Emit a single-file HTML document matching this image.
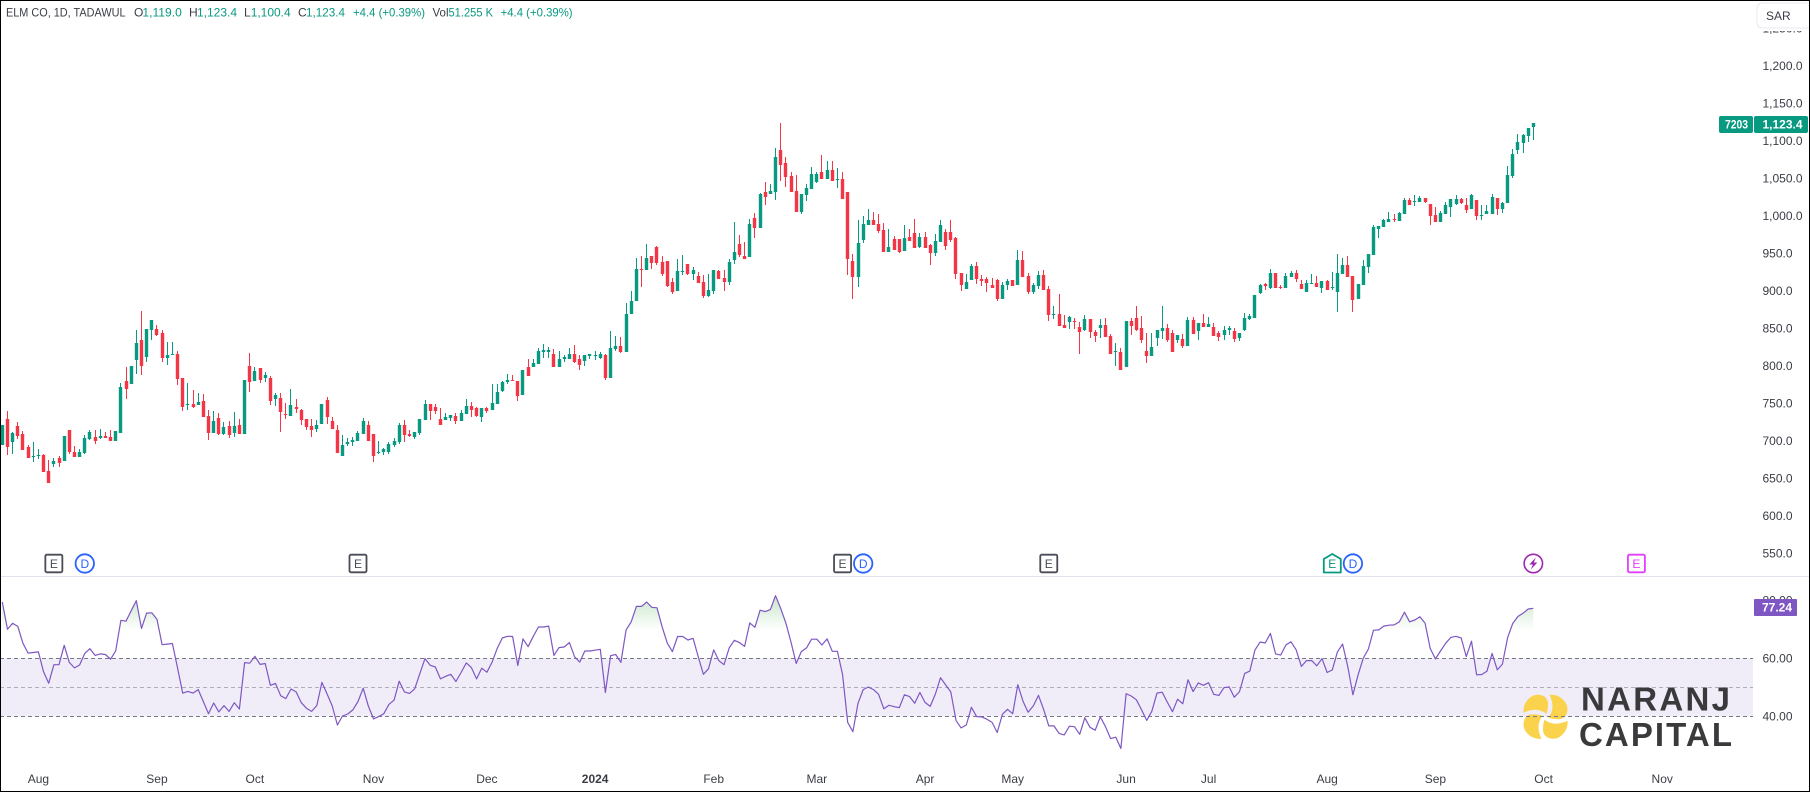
<!DOCTYPE html>
<html lang="en">
<head>
<meta charset="utf-8">
<title>ELM CO 1D TADAWUL chart</title>
<style>
html,body{margin:0;padding:0;background:#fff;width:1810px;height:792px;overflow:hidden}
svg{display:block;font-family:"Liberation Sans",sans-serif}
text{font-family:"Liberation Sans",sans-serif}
</style>
</head>
<body>
<svg id="chart" xmlns="http://www.w3.org/2000/svg" width="1810" height="792" viewBox="0 0 1810 792">
  <defs>
    <linearGradient id="obGrad" gradientUnits="userSpaceOnUse" x1="0" y1="597" x2="0" y2="630">
      <stop offset="0" stop-color="#4caf50" stop-opacity="0.3"/>
      <stop offset="1" stop-color="#4caf50" stop-opacity="0"/>
    </linearGradient>
    <linearGradient id="osGrad" gradientUnits="userSpaceOnUse" x1="0" y1="745" x2="0" y2="775">
      <stop offset="0" stop-color="#f23645" stop-opacity="0"/>
      <stop offset="1" stop-color="#f23645" stop-opacity="0.3"/>
    </linearGradient>
    <clipPath id="obClip"><rect x="0" y="560" width="1753" height="70"/></clipPath>
    <clipPath id="osClip"><rect x="0" y="745" width="1753" height="40"/></clipPath>
  </defs>
  <rect x="0" y="0" width="1810" height="792" fill="#ffffff"/>

  <g id="candles"></g>
  <line x1="0" y1="576.5" x2="1810" y2="576.5" stroke="#e0e3eb" stroke-width="1"/>

  <rect id="rsiBand" x="0" width="1753" fill="#f0edf9"/>

  <g>
    <g transform="translate(1545.5,716.8)" fill="#fbd24c">
      <path d="M-22,-4 C-23,-14 -15,-22 -8,-22 C-1,-22 2.5,-18 2.5,-13 C2.5,-9 2,-6 1,-3 C-3,-6 -7,-7 -11,-7 C-15,-6.8 -19,-5.5 -22,-4Z"/>
      <path transform="rotate(90)" d="M-22,-4 C-23,-14 -15,-22 -8,-22 C-1,-22 2.5,-18 2.5,-13 C2.5,-9 2,-6 1,-3 C-3,-6 -7,-7 -11,-7 C-15,-6.8 -19,-5.5 -22,-4Z"/>
      <path transform="rotate(180)" d="M-22,-4 C-23,-14 -15,-22 -8,-22 C-1,-22 2.5,-18 2.5,-13 C2.5,-9 2,-6 1,-3 C-3,-6 -7,-7 -11,-7 C-15,-6.8 -19,-5.5 -22,-4Z"/>
      <path transform="rotate(270)" d="M-22,-4 C-23,-14 -15,-22 -8,-22 C-1,-22 2.5,-18 2.5,-13 C2.5,-9 2,-6 1,-3 C-3,-6 -7,-7 -11,-7 C-15,-6.8 -19,-5.5 -22,-4Z"/>
    </g>
    <text x="1581" y="710.7" font-size="33" font-weight="700" fill="#3a3a3c" textLength="149" lengthAdjust="spacing">NARANJ</text>
    <text x="1579" y="746" font-size="33" font-weight="700" fill="#3a3a3c" textLength="153" lengthAdjust="spacing">CAPITAL</text>
  </g>

  <g id="rsiLevels"></g>
  <path id="rsiObFill" fill="url(#obGrad)" clip-path="url(#obClip)"/>
  <path id="rsiOsFill" fill="url(#osGrad)" clip-path="url(#osClip)"/>
  <path id="rsiLine" fill="none" stroke="#7e57c2" stroke-width="1.2" stroke-linejoin="round"/>

  <g id="events"></g>
  <g id="priceAxis"></g>
  <g id="rsiAxis"></g>
  <g id="timeAxis"></g>

  <g font-size="12">
    <text x="6" y="16.5" fill="#3a3d45" textLength="119.5" lengthAdjust="spacingAndGlyphs">ELM CO, 1D, TADAWUL</text>
    <text x="134" y="16.5" fill="#3a3d45">O</text>
    <text x="142.4" y="16.5" fill="#089981" textLength="39.4" lengthAdjust="spacingAndGlyphs">1,119.0</text>
    <text x="189" y="16.5" fill="#3a3d45">H</text>
    <text x="197" y="16.5" fill="#089981" textLength="40" lengthAdjust="spacingAndGlyphs">1,123.4</text>
    <text x="244" y="16.5" fill="#3a3d45">L</text>
    <text x="250.7" y="16.5" fill="#089981" textLength="40" lengthAdjust="spacingAndGlyphs">1,100.4</text>
    <text x="298" y="16.5" fill="#3a3d45">C</text>
    <text x="306" y="16.5" fill="#089981" textLength="39" lengthAdjust="spacingAndGlyphs">1,123.4</text>
    <text x="353" y="16.5" fill="#089981" textLength="72" lengthAdjust="spacingAndGlyphs">+4.4 (+0.39%)</text>
    <text x="432.5" y="16.5" fill="#3a3d45" textLength="16" lengthAdjust="spacingAndGlyphs">Vol</text>
    <text x="448.5" y="16.5" fill="#089981" textLength="44.5" lengthAdjust="spacingAndGlyphs">51.255 K</text>
    <text x="500.6" y="16.5" fill="#089981" textLength="72" lengthAdjust="spacingAndGlyphs">+4.4 (+0.39%)</text>
  </g>

  <g>
    <rect x="1755" y="0" width="55" height="31" fill="#ffffff"/>
    <rect x="1757" y="3" width="60" height="25" rx="5" fill="#ffffff" stroke="#e6e8ef" stroke-width="1"/>
    <text x="1766" y="20" font-size="12" fill="#3a3d45">SAR</text>
  </g>

  <g>
    <rect x="1719" y="116" width="34" height="17" rx="2" fill="#089981"/>
    <rect x="1754" y="116" width="54" height="17" rx="2" fill="#089981"/>
    <text x="1725" y="128.5" font-size="12" font-weight="700" fill="#ffffff" textLength="23" lengthAdjust="spacingAndGlyphs">7203</text>
    <text x="1762.5" y="128.5" font-size="12" font-weight="700" fill="#ffffff" textLength="40" lengthAdjust="spacingAndGlyphs">1,123.4</text>
  </g>
  <g>
    <rect x="1754" y="599" width="43" height="17" rx="1" fill="#7e57c2"/>
    <text x="1762" y="611.5" font-size="12" font-weight="700" fill="#ffffff">77.24</text>
  </g>

  <rect x="0.5" y="0.5" width="1809" height="791" fill="none" stroke="#000000" stroke-width="1"/>
</svg>

<script>
const opens = [694,729,698,720,709,692,678,680,681,660,669,677,673,714,685,678,684,702,705,704,706,705,700,710,780,776,808,834,812,848,849,844,810,814,816,784,748,749,748,753,733,710,730,709,720,710,721,709,800,780,797,784,784,756,757,736,733,745,741,729,720,716,722,754,726,714,680,696,698,700,709,721,709,684,685,685,694,698,721,709,705,710,728,749,745,729,728,730,733,726,736,746,744,732,744,741,749,766,778,781,780,761,798,798,802,818,818,816,798,809,809,816,809,806,813,813,810,
814,784,822,826,818,869,886,929,928,946,958,938,940,912,900,925,936,922,920,912,893,900,926,917,912,941,962,946,945,997,984,1032,1029,1032,1088,1070,1053,1033,1005,1028,1036,1045,1058,1049,1061,1048,1049,1032,940,918,968,988,994,989,981,952,969,969,953,972,977,958,972,961,950,965,978,978,970,924,902,914,933,916,916,908,914,889,908,914,908,941,920,898,906,921,902,868,869,854,858,860,852,848,862,845,850,854,840,818,818,798,860,864,850,820,813,837,846,850,844,834,836,826,861,846,
857,852,852,844,841,848,846,837,848,862,864,897,909,904,924,905,904,918,924,909,898,909,910,904,913,904,898,922,934,920,889,908,932,948,982,985,992,996,993,1002,1021,1018,1018,1024,1016,1001,992,1002,1012,1016,1022,1014,1009,1021,1000,1002,1002,1024,1009,1017,1053,1088,1097,1106,1118];
const highs = [721,740,712,724.5,713,694,698,689,682,674,677,680,706,714,693,689,708,714,714,716,712,714,713,777,798,800,848,873,849,861,854,848,832,832,820,784,777,768,764,762,741,740,737,725,726,738,729,781,817,798,797,792,786,764,764,750,769,756,742,729,729,728,749,758,732,721,708,704,705,713,730,726,709,700,690,698,704,724,728,714,712,729,754,749,749,744,737,734,737,741,756,752,745,744,745,776,776,780,789,788,780,794,809,809,824,829,825,822,820,814,824,828,814,814,816,820,818,
816,846,840,838,884,900,944,946,962,946,960,946,940,917,942,948,936,932,925,921,922,928,928,928,942,992,974,965,996,1004,1030,1045,1042,1090,1124,1078,1058,1054,1029,1042,1065,1058,1081,1073,1073,1064,1058,1032,949,994,1000,1009,1005,1002,990,982,973,969,988,982,996,977,978,962,976,994,982,994,972,924,922,936,938,921,918,917,916,912,916,914,954,953,924,910,926,928,906,880,896,868,866,864,858,868,862,848,862,864,842,830,824,860,864,880,866,844,844,848,880,856,848,841,842,865,865,857,
869,865,857,846,853,853,850,844,870,869,894,909,910,929,924,908,924,926,928,914,914,922,920,913,914,925,949,944,946,920,909,941,949,988,986,996,1005,1002,1005,1024,1024,1028,1026,1024,1016,1012,1006,1018,1022,1028,1024,1024,1029,1021,1014,1014,1029,1024,1018,1066,1089,1109,1109,1117,1123.4];
const lows = [694,681,682,702,688,677,672,676,658,644,665,665,673,682,678,678,682,701,696,702,704,700,700,710,756,776,789,788,805,834,840,805,801,814,774,740,741,744,748,732,701,710,708,708,704,705,709,709,765,780,777,778,748,746,712,729,733,737,721,714,705,712,722,722,716,684,680,693,693,700,709,700,672,682,681,682,692,696,698,705,702,708,728,728,736,721,728,726,722,726,736,732,732,725,737,741,749,765,776,780,753,761,786,798,802,810,810,798,798,805,809,804,794,800,809,808,809,
781,784,820,817,818,869,886,905,928,929,934,920,905,896,900,921,921,914,910,890,892,896,916,900,908,936,945,942,945,970,984,1014,1029,1021,1046,1038,1032,1005,1002,1020,1036,1044,1049,1049,1046,1037,1022,921,889,905,964,988,988,977,952,952,954,950,953,966,957,957,957,934,946,965,954,965,916,900,902,914,909,906,898,904,886,889,901,906,908,918,896,896,902,901,860,862,853,850,849,849,816,846,837,832,837,838,816,800,794,798,841,846,830,804,813,826,836,832,818,830,824,826,842,834,
852,852,840,833,834,841,832,833,846,861,864,896,901,902,904,902,904,918,912,902,898,909,905,897,901,901,872,922,918,872,889,908,924,948,970,985,992,992,993,1002,1014,1013,1018,1017,988,992,992,1002,998,1014,1016,1004,1009,994,994,1002,1002,1001,1004,1017,1050,1082,1084,1098,1100.4];
const closes = [721,692,710,706,688,677,680,681,658,644,673,670,706,685,678,685,704,712,700,706,704,700,713,772,769,800,830,800,849,861,841,810,814,816,782,745,749,745,752,732,710,726,709,718,708,720,709,781,778,793,781,788,753,761,738,734,748,742,728,718,714,721,749,732,716,684,694,698,701,710,726,700,680,685,689,696,700,721,708,706,712,729,749,740,740,721,732,734,726,737,746,741,733,744,740,750,765,778,781,780,760,794,786,804,820,821,821,798,809,812,816,805,801,814,816,814,816,
784,824,826,818,869,886,929,928,944,937,937,922,906,898,926,926,922,928,910,893,901,928,916,912,938,952,948,942,989,984,1029,1025,1033,1078,1068,1052,1032,1005,1029,1037,1056,1056,1049,1061,1046,1049,1022,942,918,964,989,994,988,980,952,958,954,952,970,966,957,972,957,950,966,988,960,968,922,908,912,933,916,913,910,904,889,908,913,906,941,918,898,908,921,901,868,869,853,850,865,858,845,862,845,840,854,838,816,820,794,860,853,848,834,813,825,848,850,834,818,841,826,861,842,857,
852,856,840,838,848,850,836,844,864,866,894,908,906,924,904,904,920,924,916,902,910,910,905,913,901,905,924,934,918,888,909,933,949,985,986,994,996,994,1004,1021,1014,1020,1024,1018,1000,992,1004,1014,1022,1022,1017,1008,1028,1000,1001,1006,1025,1009,1017,1054,1082,1098,1108,1117,1123.4];
const rsiValues = [79.4,70.0,72.1,71.0,65.2,61.8,62.0,62.2,55.4,51.4,57.8,57.8,64.5,58.6,56.7,57.7,61.7,63.3,61.0,61.5,61.3,59.7,62.6,73.1,72.8,76.4,79.9,70.3,75.6,75.7,73.4,64.7,64.9,65.1,56.6,48.0,48.6,48.0,49.2,45.1,40.9,44.6,41.5,43.7,41.7,44.7,42.5,58.5,58.3,60.7,57.9,58.2,50.7,51.3,47.1,46.1,49.4,48.4,44.7,42.8,41.7,43.7,51.7,47.7,43.6,37.0,40.1,40.8,42.2,45.1,49.7,43.6,39.1,39.9,40.9,44.1,45.6,52.1,48.4,47.9,49.5,54.8,59.9,57.6,57.0,52.9,53.8,54.5,52.0,55.1,58.4,56.8,52.9,56.6,55.2,58.6,63.4,67.0,67.6,67.5,57.5,66.7,64.0,67.6,70.8,70.8,71.1,61.0,63.7,63.9,65.4,60.6,58.7,62.5,62.5,62.8,63.1,
48.2,60.9,61.3,58.6,69.8,72.6,77.9,77.9,79.4,77.6,77.4,70.9,65.2,62.3,67.5,67.5,66.3,66.9,60.6,54.5,56.4,62.9,59.2,57.8,63.6,66.2,65.4,64.1,72.2,70.7,76.6,76.1,76.8,81.6,77.2,72.1,65.6,58.2,62.3,63.6,66.6,66.6,64.6,66.7,62.4,62.4,54.3,37.9,34.7,44.5,49.2,50.1,49.2,47.6,42.6,43.8,43.3,43.0,47.4,46.8,44.5,48.2,44.8,43.4,47.7,53.3,50.8,48.4,38.6,36.0,37.0,43.1,39.9,39.8,39.0,37.9,34.4,40.7,42.4,40.9,50.9,45.2,41.4,43.6,47.2,42.4,36.7,36.7,34.1,33.6,36.6,36.4,33.8,39.5,36.2,35.2,39.8,36.4,32.3,32.8,28.9,47.8,47.0,45.7,42.2,38.6,41.8,48.0,48.3,44.9,41.6,45.9,44.3,52.6,48.5,51.5,
50.7,51.6,47.6,47.2,49.9,50.1,46.6,48.5,54.8,55.6,62.9,65.6,65.3,68.6,61.5,61.1,64.6,65.7,62.9,57.2,59.2,59.2,57.4,59.9,55.1,56.0,62.2,64.9,57.1,47.4,54.3,60.0,63.2,69.7,69.8,71.1,71.4,71.5,72.6,75.9,72.6,73.2,74.3,72.1,63.4,59.8,62.5,65.2,67.2,67.6,67.0,60.6,65.9,54.3,54.4,55.5,61.7,56.0,58.0,67.1,72.0,74.4,75.5,77.0,77.24];

const priceTicks = [550,600,650,700,750,800,850,900,950,1000,1050,1100,1150,1200,1250];
const rsiTicks = [40,60,80];
const rsiLevels = [60,50,40];
const monthLabels = ["Aug","Sep","Oct","Nov","Dec","2024","Feb","Mar","Apr","May","Jun","Jul","Aug","Sep","Oct","Nov"];
const monthIndexes = [7,30,49,72,94,115,138,158,179,196,218,234,257,278,299,322];
const eventIndexes = [10,16,69,163,167,203,258,262,297,317];
const eventKinds = ["E","D","E","E","D","E","H","D","B","M"];

const SVG_NS = "http://www.w3.org/2000/svg";
function xAt(i){ return 2.3 + 5.155 * i; }
function yPrice(p){ return 140.7 + (1100 - p) * 0.75; }
function yRsi(r){ return 658.3 + (60 - r) * 2.9; }
function fmtPrice(p){ return p.toFixed(1).replace(/\B(?=(\d{3})+(?!\d))/, ","); }
function make(tag, attrs){
  const el = document.createElementNS(SVG_NS, tag);
  for (const k in attrs) el.setAttribute(k, attrs[k]);
  return el;
}

// candles
const candleLayer = document.getElementById("candles");
for (let i = 0; i < closes.length; i++) {
  const up = closes[i] >= opens[i];
  const color = up ? "#089981" : "#f23645";
  const cx = Math.floor(xAt(i));
  const g = make("g", {});
  
  
  const yH = Math.round(yPrice(highs[i]));
  const yL = Math.round(yPrice(lows[i]));
  const yT = Math.round(yPrice(Math.max(opens[i], closes[i])));
  const yB = Math.round(yPrice(Math.min(opens[i], closes[i])));
  const wick = make("rect", {x: cx, y: yH, width: 1, height: Math.max(1, yL - yH), fill: color});
  
  
  const body = make("rect", {x: cx - 1.2, y: yT, width: 3.4, height: Math.max(1, yB - yT), fill: color});
  
  
  g.appendChild(wick);
  g.appendChild(body);
  candleLayer.appendChild(g);
}

// rsi band & levels
const band = document.getElementById("rsiBand");
band.setAttribute("y", yRsi(rsiLevels[0]));
band.setAttribute("height", yRsi(rsiLevels[2]) - yRsi(rsiLevels[0]));
const levelLayer = document.getElementById("rsiLevels");
rsiLevels.forEach(function(level){
  const ly = Math.round(yRsi(level)) + 0.5;
  const line = make("line", {x1: 0, x2: 1753, y1: ly, y2: ly, stroke: level === 50 ? "rgba(120,123,134,0.55)" : "#787b86", "stroke-width": 1, "stroke-dasharray": "4 3"});
  
  
  levelLayer.appendChild(line);
});

// rsi line
const rsiPts = rsiValues.map(function(v, i){ return xAt(i).toFixed(1) + "," + yRsi(v).toFixed(1); });
document.getElementById("rsiLine").setAttribute("d", "M" + rsiPts.join("L"));
const lastX = xAt(rsiValues.length - 1).toFixed(1);
const firstX = xAt(0).toFixed(1);
const yOb = yRsi(70).toFixed(1);
const yOs = yRsi(30).toFixed(1);
document.getElementById("rsiObFill").setAttribute("d", "M" + firstX + "," + yOb + "L" + rsiPts.join("L") + "L" + lastX + "," + yOb + "Z");
document.getElementById("rsiOsFill").setAttribute("d", "M" + firstX + "," + yOs + "L" + rsiPts.join("L") + "L" + lastX + "," + yOs + "Z");

// price axis
const priceAxis = document.getElementById("priceAxis");
priceTicks.forEach(function(p){
  const t = make("text", {x: 1762.5, y: yPrice(p) + 4.2, "font-size": 12, fill: "#3a3d45"});
  
  
  t.textContent = fmtPrice(p);
  priceAxis.appendChild(t);
});

// rsi axis
const rsiAxis = document.getElementById("rsiAxis");
rsiTicks.forEach(function(r){
  const t = make("text", {x: 1762.5, y: yRsi(r) + 4.2, "font-size": 12, fill: "#3a3d45"});
  
  
  t.textContent = r.toFixed(2);
  rsiAxis.appendChild(t);
});

// time axis
const timeAxis = document.getElementById("timeAxis");
monthLabels.forEach(function(label, k){
  const isYear = /^\d+$/.test(label);
  const t = make("text", {x: xAt(monthIndexes[k]), y: 783.2, "font-size": 12, "text-anchor": "middle", fill: "#3a3d45", "font-weight": isYear ? 700 : 400});
  
  
  t.textContent = label;
  timeAxis.appendChild(t);
});

// event markers
const eventLayer = document.getElementById("events");
const cy = 563.5;
eventKinds.forEach(function(kind, k){
  const cx = xAt(eventIndexes[k]);
  const g = make("g", {});
  
  
  let color = "#4a4d57";
  let letter = "E";
  if (kind === "D") {
    color = "#2962ff";
    letter = "D";
    g.appendChild(make("circle", {cx: cx, cy: cy, r: 9.2, fill: "#fff", stroke: color, "stroke-width": 1.8}));
  } else if (kind === "B") {
    color = "#9c27b0";
    letter = "";
    g.appendChild(make("circle", {cx: cx, cy: cy, r: 9.2, fill: "#fff", stroke: color, "stroke-width": 1.6}));
    g.appendChild(make("path", {d: "M" + (cx + 2.5) + "," + (cy - 6) + "L" + (cx - 4) + "," + (cy + 1) + "L" + (cx - 0.5) + "," + (cy + 1) + "L" + (cx - 2.5) + "," + (cy + 6) + "L" + (cx + 4) + "," + (cy - 1) + "L" + (cx + 0.5) + "," + (cy - 1) + "Z", fill: color}));
  } else if (kind === "H") {
    color = "#089981";
    g.appendChild(make("path", {d: "M" + (cx - 8.5) + "," + (cy - 4.5) + "L" + cx + "," + (cy - 9.5) + "L" + (cx + 8.5) + "," + (cy - 4.5) + "V" + (cy + 9) + "H" + (cx - 8.5) + "Z", fill: "#fff", stroke: color, "stroke-width": 1.8, "stroke-linejoin": "round"}));
  } else {
    if (kind === "M") color = "#e040fb";
    g.appendChild(make("rect", {x: cx - 8.5, y: cy - 8.8, width: 17, height: 17.6, rx: 1.5, fill: "#fff", stroke: color, "stroke-width": 1.8}));
  }
  if (letter) {
    const t = make("text", {x: cx, y: cy + 4.3, "font-size": 12, "text-anchor": "middle", fill: color});
    
    
    t.textContent = letter;
    g.appendChild(t);
  }
  eventLayer.appendChild(g);
});
</script>
</body>
</html>
